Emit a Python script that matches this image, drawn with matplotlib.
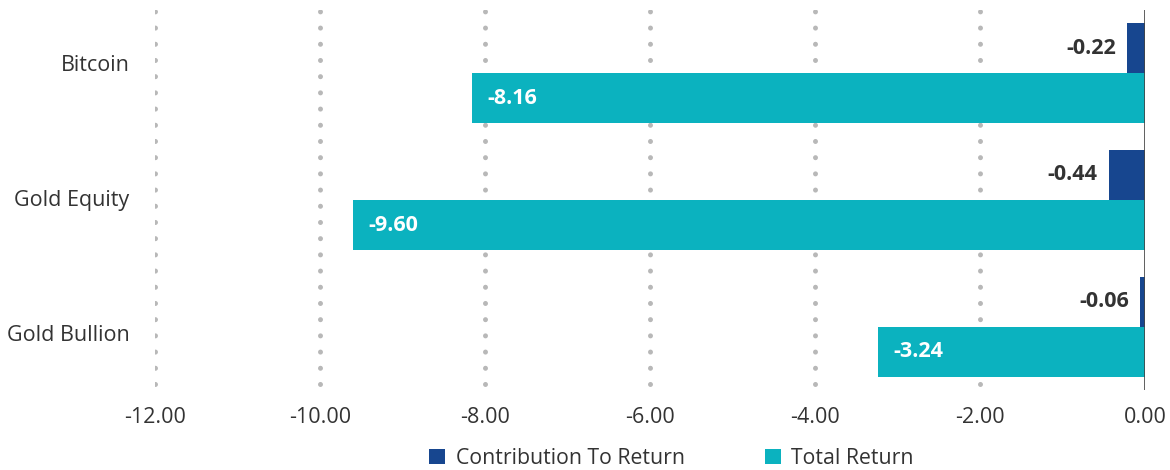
import matplotlib.pyplot as plt
import numpy as np

plt.rcParams['font.family'] = ['Open Sans', 'DejaVu Sans']

categories = ['Bitcoin', 'Gold Equity', 'Gold Bullion']
contribution = [-0.22, -0.44, -0.06]
total_return = [-8.16, -9.60, -3.24]
xticks = [-12, -10, -8, -6, -4, -2, 0]

c_dark = '#17468f'
c_teal = '#0bb2bf'

fig = plt.figure(figsize=(11.7, 4.7), dpi=100)
ax = fig.add_axes([0.1325, 0.17, 0.846, 0.809])

y = np.arange(len(categories))
h = 0.395
ax.barh(y - h / 2, contribution, height=h, color=c_dark, label='Contribution To Return', zorder=3)
ax.barh(y + h / 2, total_return, height=h, color=c_teal, label='Total Return', zorder=3)

for i in range(len(categories)):
    ax.text(contribution[i] - 0.13, y[i] - h / 2, f'{contribution[i]:.2f}', ha='right', va='center',
            fontsize=15.5, fontweight='bold', color='#333333', zorder=4)
    ax.text(total_return[i] + 0.19, y[i] + h / 2, f'{total_return[i]:.2f}', ha='left', va='center',
            fontsize=15.5, fontweight='bold', color='white', zorder=4)

ax.set_ylim(len(categories) - 0.5, -0.5)
ax.set_xlim(-12, 0)
ax.set_xticks(xticks)
ax.set_xticklabels([f'{v:.2f}' for v in xticks])
# the category labels sit slightly spread out compared with the bar groups
ax.set_yticks(y + (y - 1) * 0.063 - 0.016)
ax.set_yticklabels(categories)
ax.tick_params(axis='both', length=0, labelsize=15.5, colors='#333333')
ax.tick_params(axis='x', pad=12)
ax.tick_params(axis='y', pad=18.5)

for v in xticks[:-1]:
    ax.axvline(v, ymin=0.016, ymax=1, color='#b8b8b8', linestyle=(0, (0.01, 3.23)), linewidth=3.6,
               dash_capstyle='round', zorder=1)
ax.axvline(0, color='#444444', linewidth=1.2, zorder=5)

for s in ax.spines.values():
    s.set_visible(False)

leg = ax.legend(loc='upper center', bbox_to_anchor=(0.522, -0.152), ncol=2, frameon=False,
                fontsize=15.3, handlelength=0.75, handleheight=0.75, columnspacing=3.76, handletextpad=0.5,
                borderaxespad=0, borderpad=0)
for t in leg.get_texts():
    t.set_color('#333333')

fig.savefig('out.png', dpi=100)
